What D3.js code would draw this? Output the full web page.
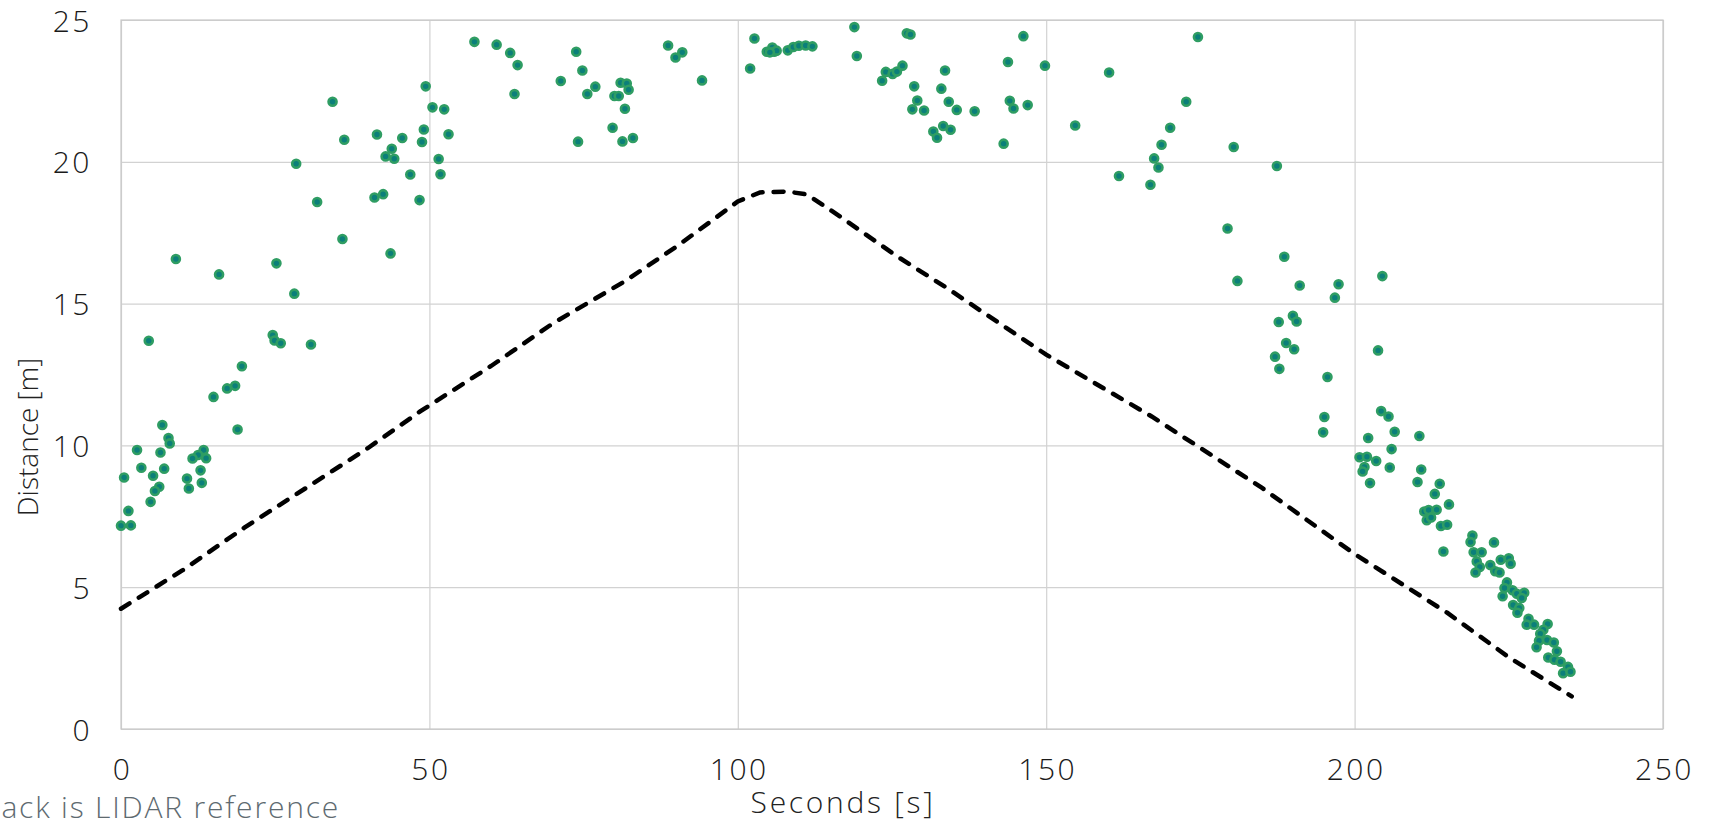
<!DOCTYPE html>
<html>
<head>
<meta charset="utf-8">
<script src="https://cdn.jsdelivr.net/npm/d3@7"></script>
<style>
  html, body { margin: 0; padding: 0; background: #fff; }
  svg { display: block; font-family: "Open Sans", "Lato", sans-serif; font-weight: 300; }
  .grid line { stroke: #d2d2d2; stroke-width: 1.2; }
  .grid path { display: none; }
  .tick text { fill: #1a1a1a; font-size: 30px; font-family: "Open Sans", "Lato", sans-serif; font-weight: 300; letter-spacing: 2.5px; }
  .title { fill: #222; }
</style>
</head>
<body>
<svg id="chart" width="1712" height="821"></svg>
<script>
// scatter measurements (seconds, metres)
const scatterT = [
  49.4, 34.3, 50.5, 36.2, 41.5, 45.6, 49.1, 48.8, 43.9, 42.9, 44.3, 51.5, 28.4, 46.9, 51.8,
  41.1, 42.5, 48.4, 31.8, 35.9, 43.7, 8.9, 25.2, 15.9, 28.1, 4.5, 24.6, 24.9, 25.9, 30.8,
  19.6, 18.5, 17.2, 15.0, 6.7, 18.9, 7.7, 7.9, 2.6, 6.4, 13.4, 12.5, 11.6, 13.8, 3.3,
  7.0, 12.9, 0.5, 5.2, 10.7, 13.1, 6.2, 5.5, 11.0, 4.8, 1.2, 0.0, 1.6,
  57.3, 60.9, 63.1, 64.3, 63.8, 52.4, 53.1, 73.8, 74.8, 71.3, 75.6, 76.9, 74.1, 81.0, 82.0,
  82.3, 80.0, 80.7, 81.7, 79.7, 81.3, 83.0, 88.7, 89.9, 91.0, 94.2, 102.7, 102.0, 104.7, 105.6,
  105.9, 106.3, 105.2, 108.1, 109.0, 109.9, 111.0, 112.1, 118.9, 119.3,
  127.4, 128.0, 146.3, 124.0, 125.1, 125.8, 126.7, 123.4, 128.6, 129.1, 128.3, 130.2, 133.6, 133.0, 134.2,
  135.5, 138.4, 131.7, 133.3, 134.5, 132.3, 143.8, 149.8, 144.1, 144.7, 147.0, 143.1, 154.7, 160.2, 174.6,
  172.7, 170.1, 168.7, 167.5, 168.2, 161.8, 166.9, 180.4, 187.4, 179.4, 181.0, 187.7, 187.1, 187.8,
  188.6, 191.1, 197.4, 196.8, 204.5, 190.0, 190.6, 188.9, 190.2, 203.8, 195.6, 195.1, 204.3, 205.5,
  194.9, 206.5, 210.5, 202.2, 206.0, 200.8, 202.0, 203.5, 201.6, 201.3, 205.7, 202.5, 210.8, 210.2, 213.8,
  213.0, 215.3, 211.3, 212.0, 213.3, 211.7, 212.4, 214.0, 215.0, 214.4,
  219.1, 218.8, 222.6, 219.3, 220.6, 219.8, 220.3, 219.6, 222.0, 222.8, 223.5, 223.7, 225.0, 225.3, 224.7,
  224.3, 224.0, 225.6, 226.3, 227.5, 227.1, 225.7, 226.7, 226.4, 228.2, 227.9, 229.1, 231.3, 230.6, 230.1,
  229.9, 229.5, 231.2, 232.3, 232.8, 231.4, 232.4, 233.4, 234.6, 233.8, 235.0
];
const scatterD = [
  22.66, 22.12, 21.92, 20.78, 20.96, 20.84, 21.14, 20.70, 20.46, 20.19, 20.11, 20.10, 19.93, 19.55, 19.56,
  18.74, 18.86, 18.65, 18.58, 17.28, 16.77, 16.57, 16.42, 16.03, 15.35, 13.69, 13.89, 13.70, 13.60, 13.56,
  12.79, 12.10, 12.01, 11.71, 10.72, 10.56, 10.26, 10.07, 9.84, 9.75, 9.84, 9.66, 9.54, 9.55, 9.21,
  9.18, 9.12, 8.87, 8.93, 8.83, 8.68, 8.54, 8.39, 8.48, 8.01, 7.69, 7.17, 7.18,
  24.23, 24.13, 23.84, 23.41, 22.39, 21.85, 20.97, 23.88, 23.22, 22.85, 22.39, 22.65, 20.71, 22.79, 22.76,
  22.54, 22.32, 22.32, 21.87, 21.20, 20.72, 20.84, 24.10, 23.68, 23.86, 22.87, 24.35, 23.29, 23.88, 24.03,
  23.88, 23.92, 23.86, 23.93, 24.05, 24.09, 24.10, 24.07, 24.75, 23.73,
  24.53, 24.49, 24.43, 23.17, 23.10, 23.18, 23.39, 22.86, 22.66, 22.16, 21.85, 21.81, 23.22, 22.58, 22.12,
  21.83, 21.78, 21.07, 21.26, 21.13, 20.85, 23.52, 23.39, 22.15, 21.88, 22.00, 20.64, 21.28, 23.15, 24.40,
  22.12, 21.20, 20.60, 20.12, 19.80, 19.50, 19.19, 20.52, 19.85, 17.65, 15.80, 14.35, 13.13, 12.70,
  16.65, 15.64, 15.68, 15.21, 15.97, 14.57, 14.37, 13.61, 13.39, 13.35, 12.41, 11.00, 11.21, 11.02,
  10.46, 10.48, 10.33, 10.26, 9.87, 9.58, 9.60, 9.45, 9.24, 9.08, 9.22, 8.67, 9.15, 8.71, 8.65,
  8.29, 7.92, 7.67, 7.72, 7.73, 7.36, 7.46, 7.16, 7.20, 6.26,
  6.82, 6.59, 6.58, 6.23, 6.23, 5.91, 5.71, 5.52, 5.78, 5.56, 5.52, 5.97, 6.02, 5.83, 5.17,
  4.97, 4.68, 4.89, 4.77, 4.80, 4.62, 4.37, 4.27, 4.10, 3.89, 3.68, 3.68, 3.70, 3.50, 3.36,
  3.11, 2.88, 3.14, 3.05, 2.74, 2.52, 2.44, 2.37, 2.19, 1.97, 2.02
];

// LIDAR reference (dashed)
const lidarT = [0, 10, 20, 30, 40, 48.5, 60, 70, 81.4, 90, 100, 103.6, 108, 111.2, 116.6, 125.8, 133.9, 150, 167.1, 185, 200, 215, 225.2, 235.2];
const lidarD = [4.24, 5.6, 7.1, 8.5, 9.9, 11.2, 12.8, 14.3, 15.75, 17.0, 18.6, 18.92, 18.95, 18.85, 18.07, 16.67, 15.55, 13.2, 11.02, 8.5, 6.17, 4.1, 2.5, 1.15];

const xTicks = [0, 50, 100, 150, 200, 250];
const yTicks = [0, 5, 10, 15, 20, 25];

const margin = { top: 20, right: 49, bottom: 92, left: 121 };
const W = 1712, H = 821;
const w = W - margin.left - margin.right;
const h = H - margin.top - margin.bottom;

const svg = d3.select('#chart');
const g = svg.append('g').attr('transform', `translate(${margin.left},${margin.top})`);

const x = d3.scaleLinear().domain([0, 250]).range([0, w]);
const y = d3.scaleLinear().domain([0, 25]).range([h, 0]);

// grid + ticks
g.append('g').attr('class', 'grid')
  .attr('transform', `translate(0,${h})`)
  .call(d3.axisBottom(x).tickValues(xTicks).tickSize(-h).tickPadding(0).tickFormat(d3.format('d')))
  .call(s => s.selectAll('.tick text').attr('y', 51).attr('dy', 0).attr('dx', 1));

g.append('g').attr('class', 'grid')
  .call(d3.axisLeft(y).tickValues(yTicks).tickSize(-w).tickPadding(0).tickFormat(d3.format('d')))
  .call(s => s.selectAll('.tick text').attr('x', -29).attr('dy', 11));

g.append('rect')
  .attr('width', w).attr('height', h)
  .attr('fill', 'none').attr('stroke', '#c8c8c8').attr('stroke-width', 1.2);

// lidar line
const line = d3.line().x((d, i) => x(lidarT[i])).y(d => y(d));
g.append('path')
  .datum(lidarD)
  .attr('d', line)
  .attr('fill', 'none')
  .attr('stroke', '#000')
  .attr('stroke-width', 4.5)
  .attr('stroke-linecap', 'round')
  .attr('stroke-dasharray', '10 11');

// scatter points
g.append('g').selectAll('circle')
  .data(scatterD)
  .enter().append('circle')
  .attr('cx', (d, i) => x(scatterT[i]))
  .attr('cy', d => y(d))
  .attr('r', 4)
  .attr('fill', '#0b7f7a')
  .attr('stroke', '#2f9d63')
  .attr('stroke-width', 2.6);

// axis titles
svg.append('text').attr('class', 'title')
  .attr('x', 843).attr('y', 813)
  .attr('text-anchor', 'middle')
  .attr('font-size', 30)
  .attr('letter-spacing', 2.7)
  .text('Seconds [s]');

svg.append('text').attr('class', 'title')
  .attr('transform', 'translate(38,437) rotate(-90)')
  .attr('text-anchor', 'middle')
  .attr('font-size', 28)
  .text('Distance [m]');

// note, runs off the left edge as in the original
svg.append('text').attr('class', 'title')
  .attr('x', 340).attr('y', 818)
  .attr('text-anchor', 'end')
  .attr('font-size', 30)
  .attr('letter-spacing', 1.8)
  .style('fill', '#5e6a70')
  .text('Black is LIDAR reference');
</script>
</body>
</html>
